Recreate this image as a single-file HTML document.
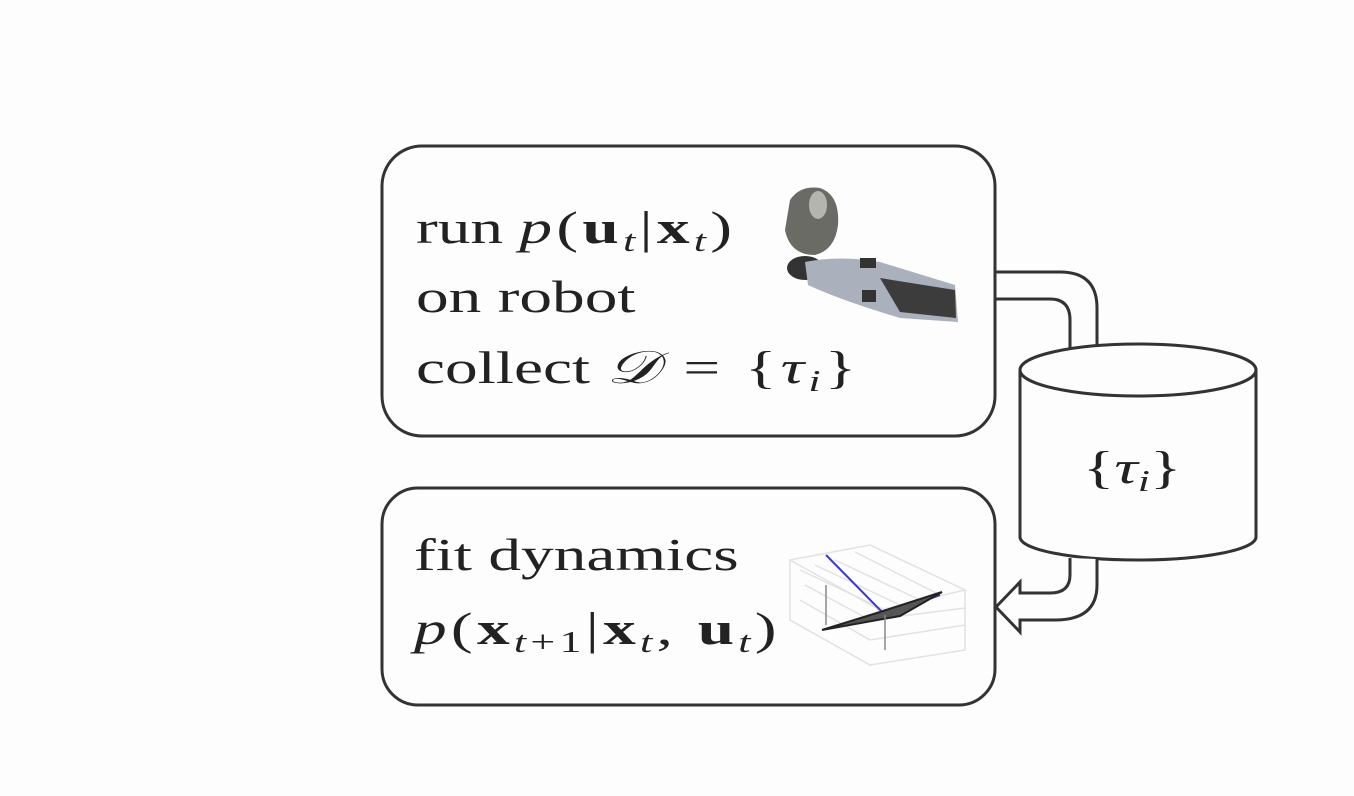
<!DOCTYPE html>
<html><head><style>
body{margin:0;background:#fdfdfd;width:1354px;height:796px;overflow:hidden;position:relative;font-family:"Liberation Serif",serif;color:#222}
.t{position:absolute;font-size:46px;white-space:nowrap;line-height:1;transform:scaleX(1.42);transform-origin:0 0}
.m{letter-spacing:3px}
i{font-style:italic}
b{font-weight:bold}
sub{font-size:31px;vertical-align:-8px;line-height:0}
</style></head><body>
<svg width="1354" height="796" style="position:absolute;left:0;top:0">
<g fill="none" stroke="#333" stroke-width="3">
<rect x="382" y="146" width="613" height="290" rx="40"/>
<rect x="382" y="488" width="613" height="217" rx="36"/>
<path d="M995 272 H1060 Q1097 272 1097 308 V346"/>
<path d="M995 299 H1050 Q1070 299 1070 320 V348"/>
<path d="M1020 370 V537 A118 23 0 0 0 1256 537 V370" fill="#fdfdfd"/>
<ellipse cx="1138" cy="370" rx="118" ry="26" fill="#fdfdfd"/>
<path d="M1070 558 V575 Q1070 593 1050 593 H1020 V582 L996 607 L1020 632 V620 H1055 Q1097 620 1097 585 V559" fill="#fdfdfd"/>
</g>
<g>
<path d="M790 200 Q800 185 820 188 Q840 195 838 225 Q835 250 815 255 Q790 255 785 230 Z" fill="#6b6b66"/>
<ellipse cx="818" cy="205" rx="9" ry="14" fill="#b5b5b0"/>
<ellipse cx="805" cy="268" rx="18" ry="12" fill="#333"/>
<path d="M805 262 Q840 255 880 262 L955 285 L958 322 L900 318 Q840 300 808 285 Z" fill="#aab0bc"/>
<path d="M880 278 L955 290 L956 318 L900 312 Z" fill="#3c3c3c"/>
<rect x="860" y="258" width="16" height="10" fill="#333"/>
<rect x="862" y="290" width="14" height="12" fill="#333"/>
</g>
<g stroke="#e2e2e2" stroke-width="1.5" fill="none">
<path d="M790 560 L870 545 L965 590 L880 610 Z"/>
<path d="M800 570 L885 610 M815 565 L900 605 M835 560 L920 600 M855 552 L940 595"/>
<path d="M790 560 V620 L870 665 L965 650 V590"/>
<path d="M800 600 L870 640 L965 625 M805 585 L870 620 L965 608"/>
</g>
<path d="M826 555 L885 615 L940 595" stroke="#3a3acc" stroke-width="2" fill="none"/>
<path d="M822 630 L880 612 L942 592 L900 616 Z" stroke="#222" stroke-width="2" fill="#555"/>
<path d="M826 585 V625 M885 615 V650" stroke="#888" stroke-width="1.5"/>
</svg>
<div class="t" style="left:416px;top:205px">run <span class="m"><i>p</i>(<b>u</b><sub><i>t</i></sub>|<b>x</b><sub><i>t</i></sub>)</span></div>
<div class="t" style="left:416px;top:274px">on robot</div>
<div class="t" style="left:416px;top:345px">collect <span class="m"><i>𝒟</i> = {<i>τ</i><sub><i>i</i></sub>}</span></div>
<div class="t" style="left:1083px;top:445px">{<i>τ</i><sub><i>i</i></sub>}</div>
<div class="t" style="left:414px;top:532px">fit dynamics</div>
<div class="t" style="left:414px;top:606px"><span class="m"><i>p</i>(<b>x</b><sub><i>t</i>+1</sub>|<b>x</b><sub><i>t</i></sub>, <b>u</b><sub><i>t</i></sub>)</span></div>
</body></html>
